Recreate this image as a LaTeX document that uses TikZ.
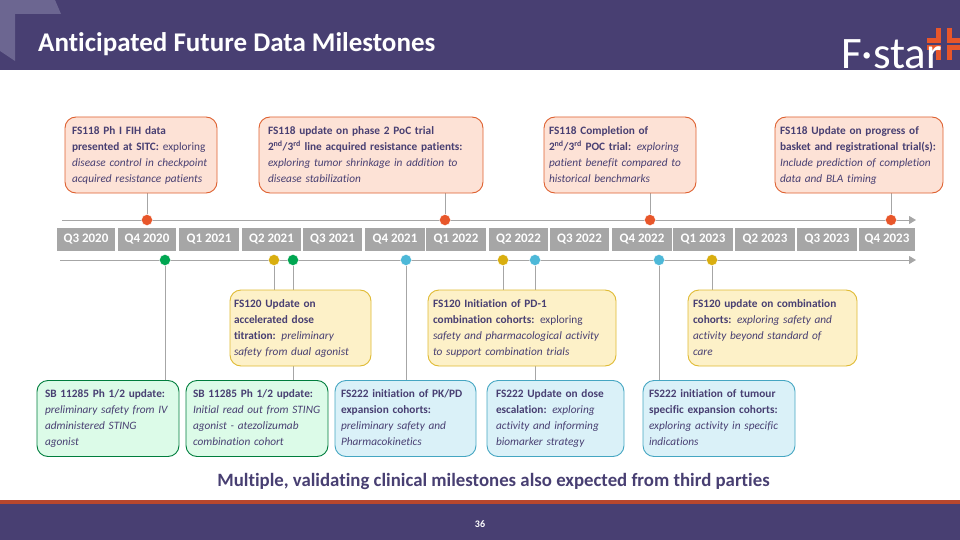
\documentclass[tikz,border=0pt]{standalone}
\usepackage{fontspec}
\setmainfont{Carlito}[Ligatures=NoCommon]
\newfontfamily\boxfont{Carlito}[Ligatures=NoCommon,WordSpace=1.55]
\usepackage{tikz}
\usetikzlibrary{arrows.meta,calc,positioning}
\definecolor{headpurple}{HTML}{483F72}
\definecolor{ghostpurple}{HTML}{6C6691}
\definecolor{footred}{HTML}{B8472E}
\definecolor{quartergrey}{HTML}{A6A6A6}
\definecolor{dotorange}{HTML}{E8562A}
\definecolor{dotgreen}{HTML}{00A651}
\definecolor{dotyellow}{HTML}{D9AE0F}
\definecolor{dotblue}{HTML}{4DB8D8}
\definecolor{fillsalmon}{HTML}{FDE2D6}
\definecolor{fillyellow}{HTML}{FDF1C8}
\definecolor{fillblue}{HTML}{DAF1F8}
\definecolor{fillgreen}{HTML}{DCFBE8}
\tikzset{msbox/.style={draw,rounded corners=11pt,align=left,inner xsep=7pt,inner ysep=0pt,minimum height=76pt,text=headpurple,line width=0.9pt,
    font=\boxfont\fontsize{11.3}{16}\selectfont,execute at begin node=\strut,execute at end node=\strut},
  fsa/.style={msbox,draw=dotorange!75!brown,fill=fillsalmon},
  fsb/.style={msbox,draw=dotyellow!85!white,fill=fillyellow},
  fsc/.style={msbox,draw=dotblue!90!black,fill=fillblue},
  sbx/.style={msbox,draw=dotgreen!75!black,fill=fillgreen},
  quarter/.style={fill=quartergrey,text=white,minimum height=23pt,inner sep=0pt,font=\fontsize{13}{15}\bfseries\selectfont},
  dot/.style={circle,minimum size=11pt,inner sep=0pt,draw=white,line width=0.3pt},
  stem/.style={draw=quartergrey,line width=0.9pt},
  axis/.style={draw=quartergrey,line width=1pt,-{Triangle[length=7pt,width=8pt]}}}
\newcommand{\bit}[2]{\textbf{#1} \textit{#2}}
\begin{document}
\begin{tikzpicture}[x=1pt,y=-1pt,>=Stealth]
\useasboundingbox (0,0) rectangle (960,540);
% header and footer
\fill[headpurple] (0,0) rectangle (960,70);
\fill[ghostpurple] (0,0)--(55,0)--(61,14)--(15,14)--(15,61)--(0,51)--cycle;
\fill[headpurple] (0,504) rectangle (960,540);
\fill[footred] (0,500) rectangle (960,504);
\node[anchor=base west,inner sep=0pt,text=white,font=\fontsize{27}{30}\bfseries\selectfont] (title) at (38,52) {Anticipated Future Data Milestones};
\draw[dotorange,line width=5pt] (938,28)--(938,40.5)--(927,40.5) (949,28)--(949,40.5)--(960,40.5) (949,60)--(949,48)--(960,48) (938,60)--(938,48)--(927,48);
\node[anchor=base west,inner sep=0pt,text=white,font=\fontsize{45}{50}\selectfont] (logo) at (841,69) {F·star};
\node[text=white,font=\fontsize{10}{12}\bfseries\selectfont] (page) at (480,524) {36};
% quarters
\foreach \xa/\xb/\lab in {57/115/Q3 2020,118/176/Q4 2020,179/239/Q1 2021,242/301/Q2 2021,303/362/Q3 2021,365/425/Q4 2021,426/486/Q1 2022,489/548/Q2 2022,550/609/Q3 2022,612/672/Q4 2022,673/733/Q1 2023,735/795/Q2 2023,797/857/Q3 2023,859/915/Q4 2023}
  \path let \n1={\xb-\xa} in node[quarter,minimum width=\n1 pt] at ({(\xa+\xb)/2},239.5) {\lab};
% time lines
\coordinate (topA) at (62,220);
\coordinate (topB) at (916,220);
\coordinate (lowA) at (60,260);
\coordinate (lowB) at (916,260);
\draw[axis] (topA)--(topB);
\draw[axis] (lowA)--(lowB);
\node[dot,fill=dotorange] (t1) at (147,220) {};
\node[dot,fill=dotorange] (t2) at (445,220) {};
\node[dot,fill=dotorange] (t3) at (650,220) {};
\node[dot,fill=dotorange] (t4) at (891,220) {};
\node[dot,fill=dotgreen] (l1) at (165,260) {};
\node[dot,fill=dotyellow] (l2) at (274,260) {};
\node[dot,fill=dotgreen] (l3) at (293,260) {};
\node[dot,fill=dotblue] (l4) at (406,260) {};
\node[dot,fill=dotyellow] (l5) at (503,260) {};
\node[dot,fill=dotblue] (l6) at (535,260) {};
\node[dot,fill=dotblue] (l7) at (659,260) {};
\node[dot,fill=dotyellow] (l8) at (712,260) {};
% boxes (stems go below them, so their ends are fixed first)
\coordinate (boxtop) at (0,193);
\coordinate (ybox) at (0,290);
\coordinate (gbox) at (0,381);
\draw[stem] (t1)--(t1|-boxtop) (t2)--(t2|-boxtop) (t3)--(t3|-boxtop) (t4)--(t4|-boxtop);
\draw[stem] (l1)--(l1|-gbox) (l2)--(l2|-ybox) (l3)--(l3|-gbox) (l4)--(l4|-gbox);
\draw[stem] (l5)--(l5|-ybox) (l6)--(l6|-gbox) (l7)--(l7|-gbox) (l8)--(l8|-ybox);
\node[fsa,text width=138pt] (a1) at (141,155) {\textbf{FS118 Ph I FIH data}\\\textbf{presented at SITC:} exploring\\\textit{disease control in checkpoint}\\\textit{acquired resistance patients}};
\node[fsa,text width=206pt,inner xsep=9pt] (a2) at (371,155) {\textbf{FS118 update on phase 2 PoC trial}\\\textbf{2\textsuperscript{nd}/3\textsuperscript{rd} line acquired resistance patients:}\\\textit{exploring tumor shrinkage in addition to}\\\textit{disease stabilization}};
\node[fsa,text width=142pt,inner xsep=5pt] (a3) at (620,155) {\textbf{FS118 Completion of}\\\textbf{2\textsuperscript{nd}/3\textsuperscript{rd} POC trial:} \textit{exploring}\\\textit{patient benefit compared to}\\\textit{historical benchmarks}};
\node[fsa,text width=158pt,inner xsep=5pt] (a4) at (859,155) {\textbf{FS118 Update on progress of}\\\textbf{basket and registrational trial(s):}\\\textit{Include prediction of completion}\\\textit{data and BLA timing}};
\node[fsb,text width=133pt,inner xsep=4pt] (b1) at (300.5,328) {\textbf{FS120 Update on}\\\textbf{accelerated dose}\\\bit{titration:}{preliminary}\\\textit{safety from dual agonist}};
\node[fsb,text width=178pt,inner xsep=5pt] (b2) at (522,328) {\textbf{FS120 Initiation of PD-1}\\\textbf{combination cohorts:} exploring\\\textit{safety and pharmacological activity}\\\textit{to support combination trials}};
\node[fsb,text width=159pt,inner xsep=5pt] (b3) at (772.5,328) {\textbf{FS120 update on combination}\\\bit{cohorts:}{exploring safety and}\\\textit{activity beyond standard of}\\\textit{care}};
\node[sbx,text width=126pt,inner xsep=8pt] (c1) at (108,418.5) {\textbf{SB 11285 Ph 1/2 update:}\\\textit{preliminary safety from IV}\\\textit{administered STING}\\\textit{agonist}};
\node[sbx,text width=128pt] (c2) at (257,418.5) {\textbf{SB 11285 Ph 1/2 update:}\\\textit{Initial read out from STING}\\\textit{agonist - atezolizumab}\\\textit{combination cohort}};
\node[fsc,text width=129pt,inner xsep=6pt] (c3) at (405.5,418.5) {\textbf{FS222 initiation of PK/PD}\\\textbf{expansion cohorts:}\\\textit{preliminary safety and}\\\textit{Pharmacokinetics}};
\node[fsc,text width=119pt,inner xsep=9pt] (c4) at (555.5,418.5) {\textbf{FS222 Update on dose}\\\bit{escalation:}{exploring}\\\textit{activity and informing}\\\textit{biomarker strategy}};
\node[fsc,text width=140pt,inner xsep=6pt] (c5) at (719,418.5) {\textbf{FS222 initiation of tumour}\\\textbf{specific expansion cohorts:}\\\textit{exploring activity in specific}\\\textit{indications}};
\node[anchor=base,inner sep=0pt,text=headpurple,font=\fontsize{18.8}{22}\bfseries\selectfont] (note) at (493.5,486) {Multiple, validating clinical milestones also expected from third parties};
\end{tikzpicture}
\end{document}
